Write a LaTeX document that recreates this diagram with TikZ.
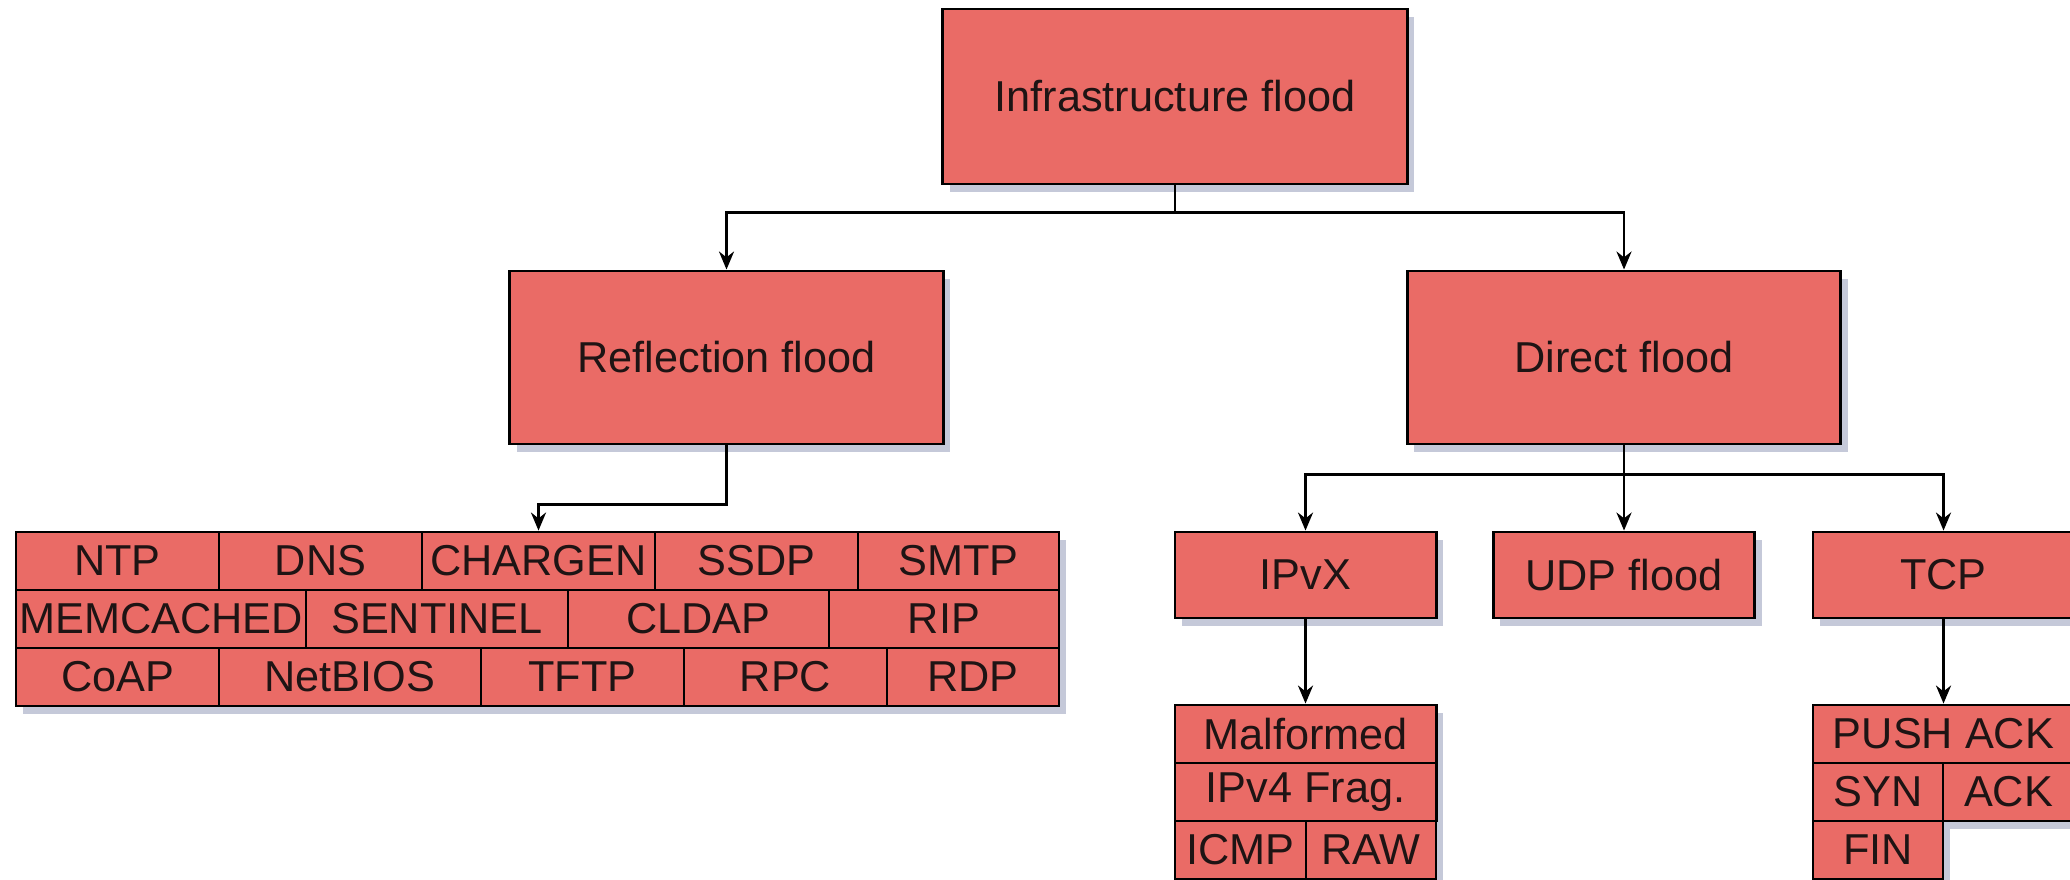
\documentclass[tikz,border=0pt]{standalone}
\usepackage{fontspec}
\setmainfont{Liberation Sans}
\usepackage{tikz}
\usetikzlibrary{positioning}
\usetikzlibrary{shadows}
\usetikzlibrary{arrows.meta}
\definecolor{floodred}{HTML}{EA6B66}
\definecolor{shadowgray}{RGB}{110,120,160}
\definecolor{labelgray}{RGB}{30,20,20}

\begin{document}
\begin{tikzpicture}[x=0.01cm, y=-0.01cm,
	box/.style={draw, line width=0.8pt, fill=floodred, text=labelgray, inner sep=0pt, font=\fontsize{12.3}{14}\selectfont,
		drop shadow={shadow xshift=0.07cm, shadow yshift=-0.08cm, opacity=0.4, fill=shadowgray}},
	big/.style={box, minimum width=4.33cm, minimum height=1.73cm},
	mid/.style={box, minimum width=2.61cm, minimum height=0.86cm},
	cell/.style={box, minimum height=0.58cm},
	link/.style={line width=0.8pt, -{Stealth[length=0.18cm, width=0.15cm]}}]
				\useasboundingbox (0,0) rectangle (2070,880);
				
				\node[big, minimum width=4.64cm, minimum height=1.75cm] (infra) at (1175,96.5) {Infrastructure flood};
				\node[big] (refl) at (726.5,357.5) {Reflection flood};
				\node[big] (direct) at (1624,357.5) {Direct flood};
				
				\node[cell, minimum width=2.03cm] (ntp) at (117.5,561) {NTP};
				\node[cell, minimum width=2.03cm] (dns) at (320.5,561) {DNS};
				\node[cell, minimum width=2.33cm] (chargen) at (538.5,561) {CHARGEN};
				\node[cell, minimum width=2.03cm] (ssdp) at (756.5,561) {SSDP};
				\node[cell, minimum width=2.01cm] (smtp) at (958.5,561) {SMTP};
				\node[cell, minimum width=2.90cm] (memcached) at (161,619) {MEMCACHED};
				\node[cell, minimum width=2.62cm] (sentinel) at (437,619) {SENTINEL};
				\node[cell, minimum width=2.61cm] (cldap) at (698.5,619) {CLDAP};
				\node[cell, minimum width=2.30cm] (rip) at (944,619) {RIP};
				\node[cell, minimum width=2.03cm] (coap) at (117.5,677) {CoAP};
				\node[cell, minimum width=2.62cm] (netbios) at (350,677) {NetBIOS};
				\node[cell, minimum width=2.03cm] (tftp) at (582.5,677) {TFTP};
				\node[cell, minimum width=2.03cm] (rpc) at (785.5,677) {RPC};
				\node[cell, minimum width=1.72cm] (rdp) at (973,677) {RDP};
				
				\node[mid] (ipvx) at (1305.5,575) {IPvX};
				\node[mid] (udp) at (1624,575) {UDP flood};
				\node[mid] (tcp) at (1943.5,575) {TCP};
				
				\node[cell, minimum width=2.61cm] (malformed) at (1305.5,734) {Malformed};
				\node[cell, minimum width=2.61cm] (frag) at (1305.5,792) {IPv4 Frag.};
				\node[cell, minimum width=1.31cm] (icmp) at (1240.5,850) {ICMP};
				\node[cell, minimum width=1.30cm] (raw) at (1371,850) {RAW};
				
				\node[cell, minimum width=2.61cm] (pushack) at (1943.5,734) {PUSH ACK};
				\node[cell, minimum width=1.30cm] (syn) at (1878,792) {SYN};
				\node[cell, minimum width=1.31cm] (ack) at (2008.5,792) {ACK};
				\node[cell, minimum width=1.30cm] (fin) at (1878,850) {FIN};
				
				\draw[link] (infra.south) -- ++(0,27) -| (refl.north);
				\draw[link] (infra.south) -- ++(0,27) -| (direct.north);
				\draw[link] (refl.south) -- ++(0,59) -| (chargen.north);
				\draw[link] (direct.south) -- ++(0,29) -| (ipvx.north);
				\draw[link] (direct.south) -- (udp.north);
				\draw[link] (direct.south) -- ++(0,29) -| (tcp.north);
				\draw[link] (ipvx) -- (malformed);
				\draw[link] (tcp) -- (pushack);
			\end{tikzpicture}
\end{document}
